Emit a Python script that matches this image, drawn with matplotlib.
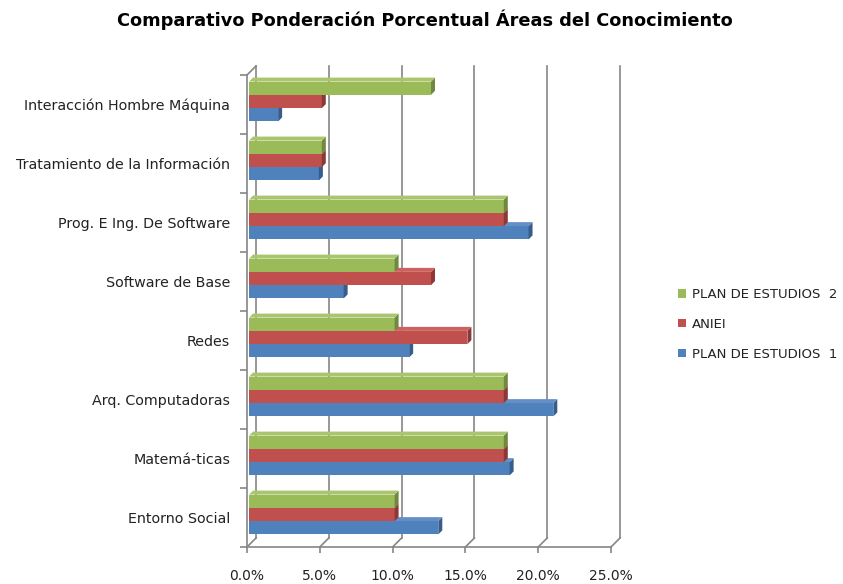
import numpy as np
import matplotlib
matplotlib.use('Agg')
import matplotlib.pyplot as plt
from matplotlib.patches import Polygon, Patch

# ── Data ───────────────────────────────────────────────────────────────────
categories = ["Entorno Social", "Matemá-ticas", "Arq. Computadoras", "Redes",
              "Software de Base", "Prog. E Ing. De Software",
              "Tratamiento de la Información", "Interacción Hombre Máquina"]
plan1 = [13.0, 17.9, 20.9, 11.0, 6.5, 19.2, 4.8, 2.0]
aniei = [10.0, 17.5, 17.5, 15.0, 12.5, 17.5, 5.0, 5.0]
plan2 = [10.0, 17.5, 17.5, 10.0, 10.0, 17.5, 5.0, 12.5]
series_names = ["PLAN DE ESTUDIOS  1", "ANIEI", "PLAN DE ESTUDIOS  2"]
xticks = [0, 5, 10, 15, 20, 25]

front = ['#4F81BD', '#C0504D', '#9BBB59']
side = ['#385D8A', '#8C3836', '#71893F']
top = ['#648FC6', '#CC625F', '#A9C66E']
grid_col = '#868686'
txt_col = '#222222'

W, H = 843, 584
fig = plt.figure(figsize=(W / 100, H / 100), dpi=100)
x0_px, x1_px, yb_px, yt_px = 247, 611, 547, 75
ax = fig.add_axes([x0_px / W, 1 - yb_px / H, (x1_px - x0_px) / W, (yb_px - yt_px) / H])
ax.set_xlim(0, 25)
ax.set_ylim(-0.5, len(categories) - 0.5)

# pixel -> data unit helpers
px_x = 25 / (x1_px - x0_px)
px_y = len(categories) / (yb_px - yt_px)

# ── back wall / floor / side wall ──────────────────────────────────────────
dX, dY = 9 * px_x, 9 * px_y
ylo, yhi = -0.5, len(categories) - 0.5
for v in xticks:
    ax.plot([v + dX, v + dX], [ylo + dY, yhi + dY], color=grid_col, lw=1.2,
            clip_on=False, zorder=1)
    ax.plot([v, v + dX], [ylo, ylo + dY], color=grid_col, lw=1.2,
            clip_on=False, zorder=1)
ax.plot([0, dX], [yhi, yhi + dY], color=grid_col, lw=1.2, clip_on=False, zorder=1)

# ── 3D-looking bars ────────────────────────────────────────────────────────
h = 0.225
bx, by = 2 * px_x, 3 * px_y
ddx, ddy = 4 * px_x, 4 * px_y
ypos = np.arange(len(categories))
for i, vals in enumerate([plan1, aniei, plan2]):
    z = 3 + i
    for y, v in zip(ypos, vals):
        yb = y + (i - 1) * h - h / 2 + by
        yt = yb + h
        ax.add_patch(Polygon([(bx, yb), (bx + v, yb), (bx + v, yt), (bx, yt)],
                             closed=True, fc=front[i], ec='none', zorder=z))
        ax.add_patch(Polygon([(bx + v, yb), (bx + v + ddx, yb + ddy),
                              (bx + v + ddx, yt + ddy), (bx + v, yt)],
                             closed=True, fc=side[i], ec='none', zorder=z))
        ax.add_patch(Polygon([(bx, yt), (bx + ddx, yt + ddy),
                              (bx + v + ddx, yt + ddy), (bx + v, yt)],
                             closed=True, fc=top[i], ec='none', zorder=z))

# ── axes styling ───────────────────────────────────────────────────────────
for s in ['top', 'right']:
    ax.spines[s].set_visible(False)
for s in ['left', 'bottom']:
    ax.spines[s].set_color(grid_col)
    ax.spines[s].set_linewidth(1.2)
    ax.spines[s].set_zorder(2)

ax.set_xticks(xticks)
ax.set_xticklabels([f"{t:.1f}%" for t in xticks])
ax.set_yticks(ypos)
ax.set_yticklabels(categories)
ax.set_yticks(np.arange(-0.5, len(categories)), minor=True)
ax.tick_params(axis='y', which='major', length=0, pad=12, labelsize=10.3,
               labelcolor=txt_col)
ax.tick_params(axis='y', which='minor', length=5, color=grid_col, width=1.2)
ax.tick_params(axis='x', length=4, color=grid_col, width=1.2, pad=12, labelsize=10,
               labelcolor=txt_col)

# ── legend ─────────────────────────────────────────────────────────────────
handles = [Patch(fc=front[i], ec='none', label=series_names[i]) for i in [2, 1, 0]]
leg = fig.legend(handles=handles, loc='upper left', bbox_to_anchor=(678 / W, 1 - 288 / H),
                 frameon=False, fontsize=9.5, handlelength=0.6, handleheight=0.6,
                 handletextpad=0.45, labelspacing=1.27, borderpad=0, borderaxespad=0)
for t in leg.get_texts():
    t.set_color(txt_col)

fig.text(425 / W, 1 - 20 / H, "Comparativo Ponderación Porcentual Áreas del Conocimiento",
         ha='center', va='center', fontsize=12.8, fontweight='bold')

fig.savefig('out.png', dpi=100)
